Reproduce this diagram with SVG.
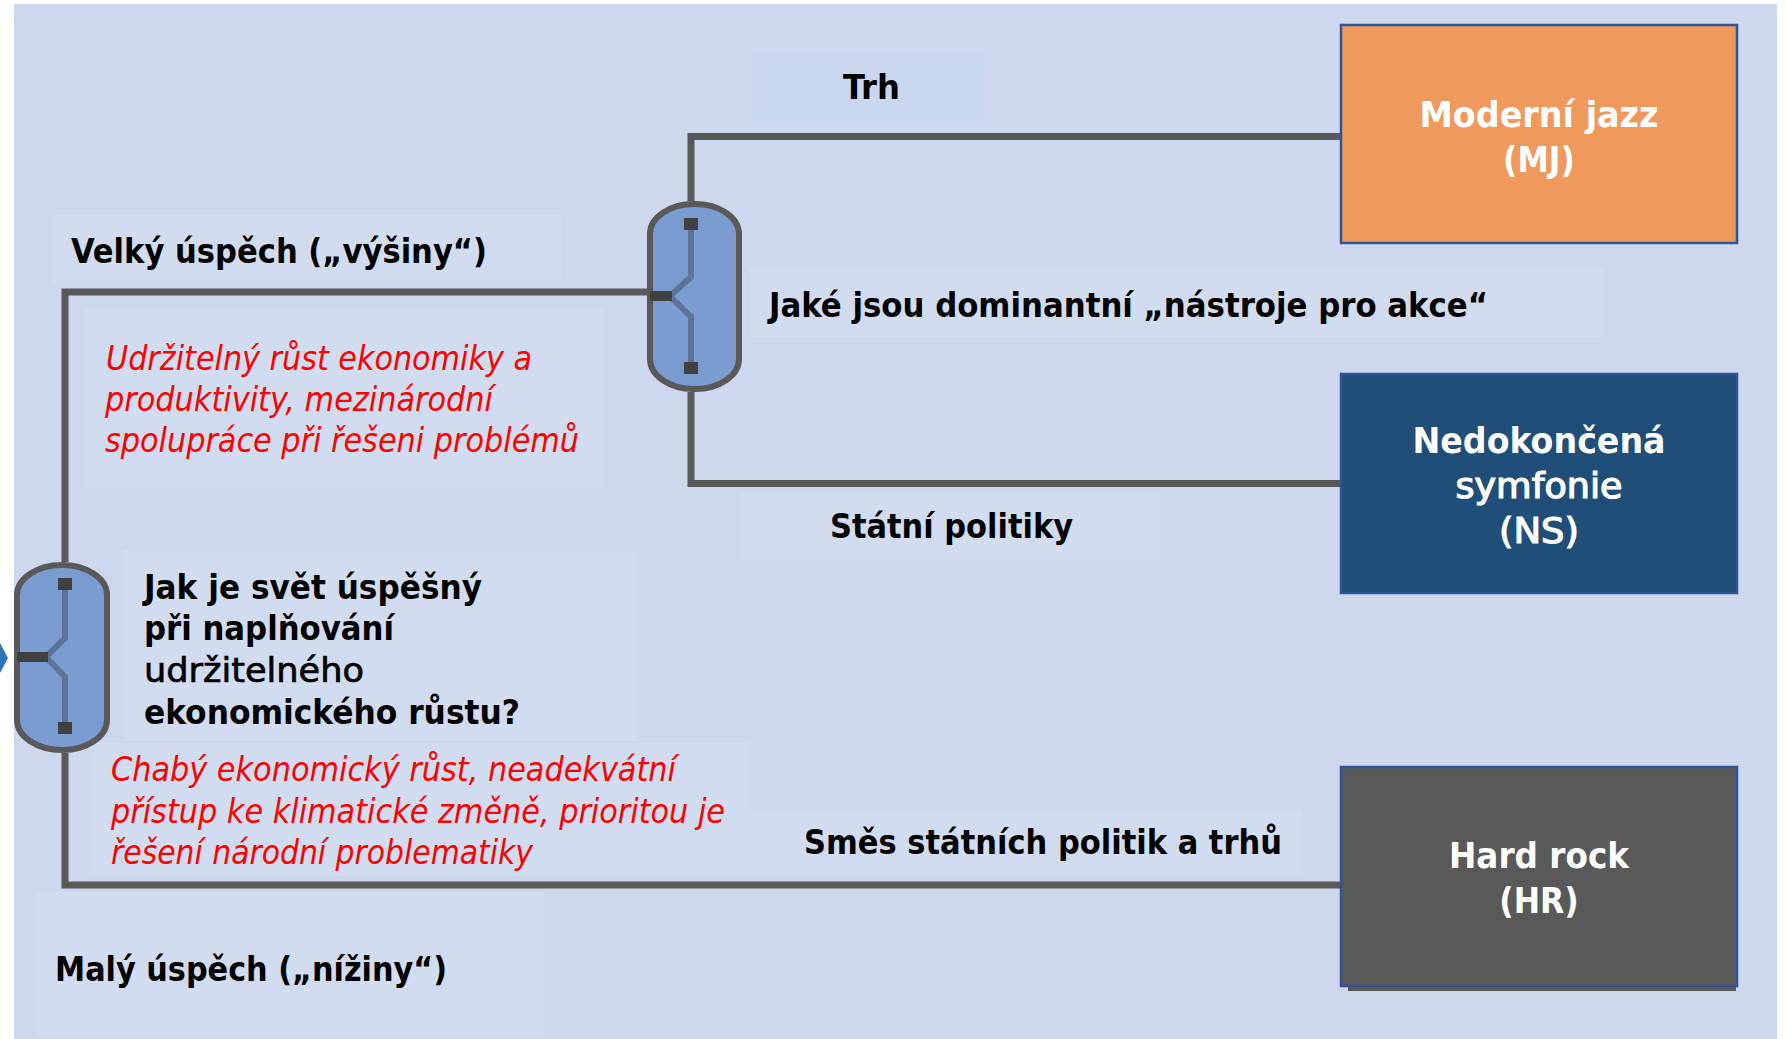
<svg xmlns="http://www.w3.org/2000/svg" width="1787" height="1039" viewBox="0 0 1787 1039">
<style>
.bg{fill:#CDD7EE}
.tb{fill:#D2DCF0}
.lbl{font-family:"DejaVu Sans Condensed","DejaVu Sans",sans-serif;font-size:33px;font-weight:bold;fill:#000}
.reg{font-weight:normal}
.red{font-family:"DejaVu Sans Condensed","DejaVu Sans",sans-serif;font-size:33px;font-style:italic;fill:#FF0000}
.box{font-family:"DejaVu Sans Condensed","DejaVu Sans",sans-serif;font-size:35px;font-weight:bold;fill:#FFFFFF;text-anchor:middle}
.boxreg{font-weight:normal;stroke:#FFFFFF;stroke-width:1.1}
.conn{fill:none;stroke:#595959;stroke-width:7}
.cap{fill:#7B9CD1;stroke:#595959;stroke-width:6}
.sw{fill:none;stroke:#5E7396;stroke-width:6}
.dot{fill:#404040}
.node{stroke:#2F5597;stroke-width:2.5}
</style>
<rect x="0" y="0" width="1787" height="1039" fill="#FFFFFF"/>
<rect class="bg" x="14" y="4" width="1763" height="1035"/>
<polygon points="0,643 8,658 0,673" fill="#2E75B6"/>

<g id="label-boxes">
<rect x="753" y="52" width="230" height="68" fill="#C9D7EE"/>
<rect class="tb" x="52" y="215" width="510" height="67"/>
<rect class="tb" x="750" y="269" width="854" height="68"/>
<rect class="tb" x="84" y="308" width="520" height="179"/>
<rect class="tb" x="740" y="492" width="420" height="68"/>
<rect class="tb" x="123" y="550" width="515" height="191"/>
<rect class="tb" x="89" y="743" width="661" height="133"/>
<rect class="tb" x="750" y="810" width="553" height="66"/>
<rect class="tb" x="34" y="892" width="510" height="145"/>
</g>

<g id="connectors">
<path class="conn" d="M691,201 V136.5 H1341"/>
<path class="conn" d="M691,392 V483.5 H1341"/>
<path class="conn" d="M647,292 H65 V562"/>
<path class="conn" d="M65,753 V885 H1340"/>
</g>

<g id="switch-upper">
<rect class="cap" x="650" y="204" width="89" height="185" rx="44" ry="30"/>
<path class="sw" d="M691,224 V277 L670,296 L691,317 V366"/>
<path d="M650,296 H672" stroke="#404040" stroke-width="10" fill="none"/>
<rect class="dot" x="684" y="218" width="14" height="12"/>
<rect class="dot" x="684" y="362" width="14" height="12"/>
</g>

<g id="switch-lower">
<rect class="cap" x="17" y="565" width="90" height="185" rx="45" ry="30"/>
<path class="sw" d="M65,587 V638 L46,657 L65,677 V724"/>
<path d="M17,657 H48" stroke="#404040" stroke-width="10" fill="none"/>
<rect class="dot" x="58" y="578" width="14" height="12"/>
<rect class="dot" x="58" y="722" width="14" height="12"/>
</g>

<g id="label-trh"><text class="lbl" x="843" y="99" textLength="57" lengthAdjust="spacingAndGlyphs">Trh</text></g>
<g id="label-velky"><text class="lbl" x="71" y="263" textLength="416" lengthAdjust="spacingAndGlyphs">Velký úspěch („výšiny“)</text></g>
<g id="label-jake"><text class="lbl" x="769" y="317" textLength="719" lengthAdjust="spacingAndGlyphs">Jaké jsou dominantní „nástroje pro akce“</text></g>
<g id="label-statni"><text class="lbl" x="830" y="538" textLength="243" lengthAdjust="spacingAndGlyphs">Státní politiky</text></g>
<g id="label-smes"><text class="lbl" x="804" y="854" textLength="478" lengthAdjust="spacingAndGlyphs">Směs státních politik a trhů</text></g>
<g id="label-maly"><text class="lbl" x="55" y="981" textLength="392" lengthAdjust="spacingAndGlyphs">Malý úspěch („nížiny“)</text></g>

<g id="question">
<text class="lbl" x="144" y="599" textLength="338" lengthAdjust="spacingAndGlyphs">Jak je svět úspěšný</text>
<text class="lbl" x="144" y="640" textLength="250" lengthAdjust="spacingAndGlyphs">při naplňování</text>
<text class="lbl reg" x="144" y="682" textLength="220" lengthAdjust="spacingAndGlyphs" stroke="#000" stroke-width="0.6">udržitelného</text>
<text class="lbl" x="144" y="724" textLength="376" lengthAdjust="spacingAndGlyphs">ekonomického růstu?</text>
</g>

<g id="note-high">
<text class="red" x="106" y="370" textLength="426" lengthAdjust="spacingAndGlyphs">Udržitelný růst ekonomiky a</text>
<text class="red" x="105" y="411" textLength="388" lengthAdjust="spacingAndGlyphs">produktivity, mezinárodní</text>
<text class="red" x="105" y="452" textLength="474" lengthAdjust="spacingAndGlyphs">spolupráce při řešeni problémů</text>
</g>

<g id="note-low">
<text class="red" x="111" y="781" textLength="565" lengthAdjust="spacingAndGlyphs">Chabý ekonomický růst, neadekvátní</text>
<text class="red" x="111" y="823" textLength="614" lengthAdjust="spacingAndGlyphs">přístup ke klimatické změně, prioritou je</text>
<text class="red" x="111" y="864" textLength="422" lengthAdjust="spacingAndGlyphs">řešení národní problematiky</text>
</g>

<g id="node-mj">
<rect class="node" x="1341" y="25" width="396" height="218" fill="#F0995C"/>
<text class="box" x="1539" y="127" textLength="239" lengthAdjust="spacingAndGlyphs">Moderní jazz</text>
<text class="box" x="1539" y="172">(MJ)</text>
</g>

<g id="node-ns">
<rect class="node" x="1341" y="374" width="396" height="219" fill="#1F4E79"/>
<text class="box" x="1539" y="453" textLength="253" lengthAdjust="spacingAndGlyphs">Nedokončená</text>
<text class="box boxreg" x="1539" y="498" textLength="167" lengthAdjust="spacingAndGlyphs">symfonie</text>
<text class="box boxreg" x="1539" y="543" textLength="80" lengthAdjust="spacingAndGlyphs">(NS)</text>
</g>

<g id="node-hr">
<rect x="1348" y="771" width="388" height="220" fill="#595959"/>
<rect class="node" x="1341" y="767" width="396" height="219" fill="#595959"/>
<text class="box" x="1539" y="868" textLength="180" lengthAdjust="spacingAndGlyphs">Hard rock</text>
<text class="box" x="1539" y="913">(HR)</text>
</g>
</svg>
